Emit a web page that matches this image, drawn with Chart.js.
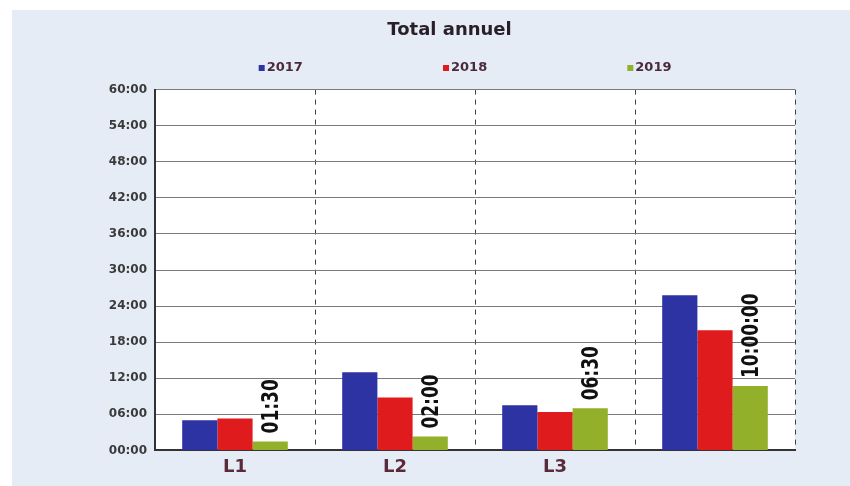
<!DOCTYPE html>
<html>
<head>
<meta charset="utf-8">
<script src="https://cdn.jsdelivr.net/npm/chart.js@4/dist/chart.umd.min.js"></script>
<style>
    html, body { margin: 0; padding: 0; background: #ffffff; }
    #wrap { width: 850px; height: 486px; position: relative; }
</style>
</head>
<body>
<div id="wrap"><canvas id="chart"></canvas></div>
<script>
// data (hours)
const categories = ['L1', 'L2', 'L3', ''];
const years = ['2017', '2018', '2019'];
const values2017 = [5.0, 13.0, 7.5, 25.8];
const values2018 = [5.3, 8.8, 6.4, 20.0];
const values2019 = [1.5, 2.3, 7.0, 10.7];
const labels2019 = ['01:30', '02:00', '06:30', '10:00:00'];
const yTicks = ['00:00', '06:00', '12:00', '18:00', '24:00', '30:00', '36:00', '42:00', '48:00', '54:00', '60:00'];

const colors = ['#2d33a3', '#e01b1d', '#93b02a'];
const FONT = "'DejaVu Sans', Verdana, sans-serif";

// page background + white plot area
const bgPlugin = {
    id: 'bg',
    beforeDraw(chart) {
        const { ctx, chartArea: a } = chart;
        ctx.save();
        ctx.fillStyle = '#e5ecf6';
        ctx.fillRect(12, 10, chart.width - 12, chart.height - 10);
        ctx.fillStyle = '#ffffff';
        ctx.fillRect(a.left, a.top, a.right - a.left, a.bottom - a.top);
        ctx.restore();
    },
};

// legend spread wide over the top, like the original
const legendPlugin = {
    id: 'wideLegend',
    afterDraw(chart) {
        const { ctx, chartArea: a } = chart;
        const centre = (a.left + a.right) / 2 - 10;
        const step = (a.right - a.left) * 0.288;
        ctx.save();
        ctx.font = 'bold 13px ' + FONT;
        ctx.textBaseline = 'middle';
        chart.data.datasets.forEach((ds, i) => {
            const x = centre + (i - 1) * step - 22;
            const y = 68;
            ctx.fillStyle = ds.backgroundColor;
            ctx.fillRect(x, y - 3, 6, 6);
            ctx.fillStyle = '#4a2a3a';
            ctx.fillText(ds.label, x + 8, y);
        });
        ctx.restore();
    },
};

// vertical time labels over the 2019 bars
const valueLabels = {
    id: 'valueLabels',
    afterDatasetsDraw(chart) {
        const { ctx } = chart;
        const meta = chart.getDatasetMeta(2);
        ctx.save();
        ctx.font = 'bold 17px ' + FONT;
        ctx.fillStyle = '#111111';
        ctx.textAlign = 'left';
        ctx.textBaseline = 'middle';
        meta.data.forEach((bar, i) => {
            ctx.save();
            ctx.translate(bar.x, bar.y - 8);
            ctx.rotate(-Math.PI / 2);
            ctx.scale(1, 1.35);
            ctx.fillText(labels2019[i], 0, 1);
            ctx.restore();
        });
        ctx.restore();
    },
};

new Chart(document.getElementById('chart'), {
    type: 'bar',
    data: {
        labels: categories,
        datasets: [
            { label: years[0], data: values2017, backgroundColor: colors[0] },
            { label: years[1], data: values2018, backgroundColor: colors[1] },
            { label: years[2], data: values2019, backgroundColor: colors[2] },
        ],
    },
    options: {
        responsive: true,
        maintainAspectRatio: false,
        animation: false,
        layout: { padding: { left: 104, right: 55, top: 0, bottom: 2 } },
        datasets: { bar: { categoryPercentage: 0.66, barPercentage: 1.0 } },
        scales: {
            x: {
                grid: {
                    offset: true,
                    color: '#404040',
                    lineWidth: 1,
                    drawTicks: false,
                },
                border: { display: true, color: '#333333', width: 2, dash: [5, 5] },
                ticks: {
                    color: '#5b2a3a',
                    font: { family: FONT, size: 18, weight: 'bold' },
                    padding: 6,
                },
            },
            y: {
                min: 0, max: 60,
                afterFit(scale) { scale.width = 51; },
                grid: { color: '#7a7a7a', lineWidth: 1, drawTicks: false },
                border: { display: true, color: '#333333', width: 2 },
                ticks: {
                    stepSize: 6,
                    padding: 8,
                    color: '#3a3a3a',
                    font: { family: FONT, size: 12, weight: 'bold' },
                    callback: (v, i) => yTicks[i],
                },
            },
        },
        plugins: {
            legend: { display: false },
            tooltip: { enabled: false },
            title: {
                display: true,
                text: 'Total annuel',
                color: '#2a1e28',
                font: { family: FONT, size: 18, weight: 'bold' },
                padding: { top: 20, bottom: 48 },
            },
        },
    },
    plugins: [bgPlugin, legendPlugin, valueLabels],
});
</script>
</body>
</html>
